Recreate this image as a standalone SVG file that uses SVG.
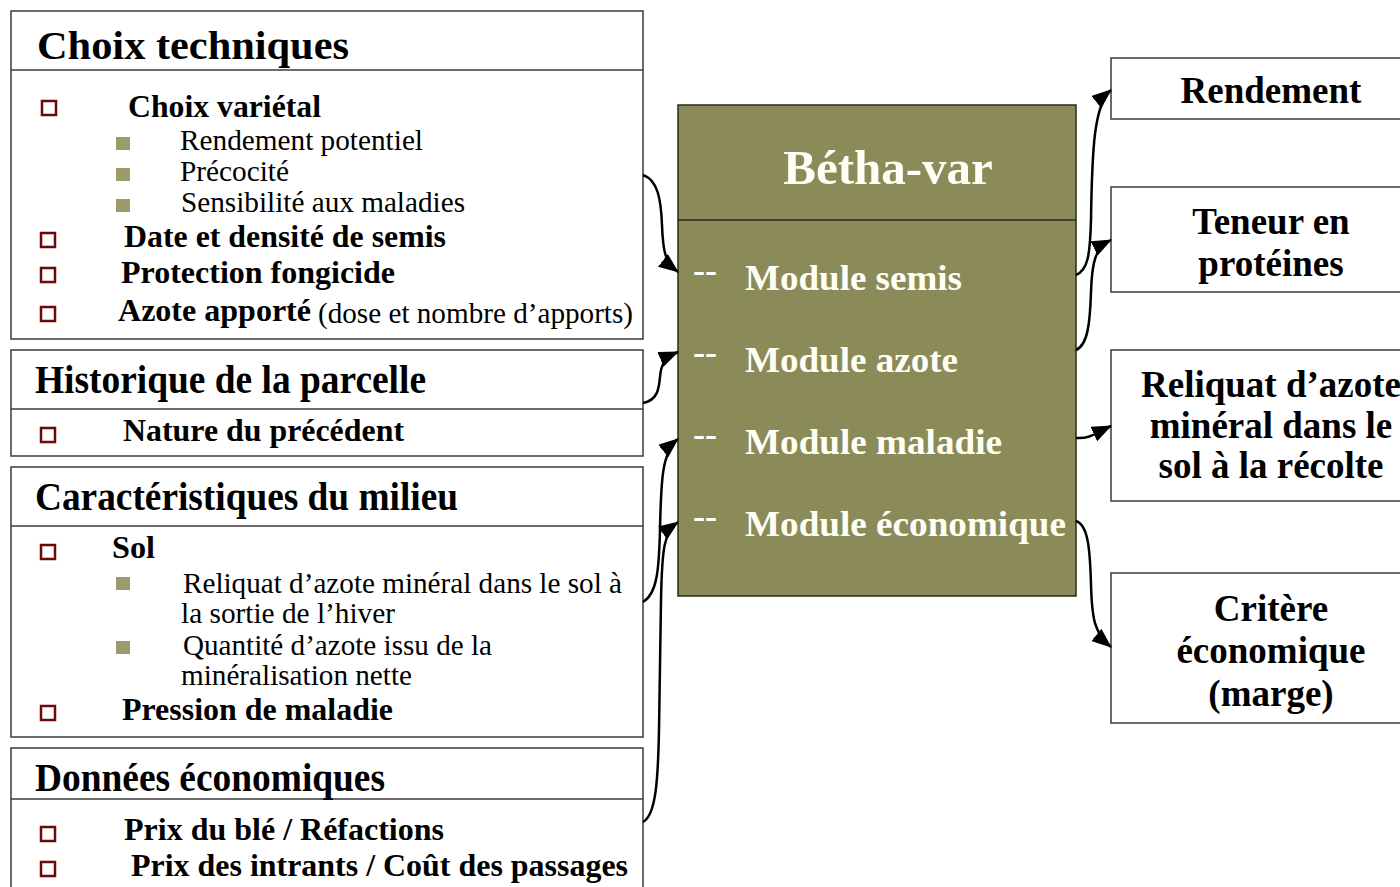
<svg xmlns="http://www.w3.org/2000/svg" width="1400" height="887" viewBox="0 0 1400 887">
<style>
.box{fill:#fff;stroke:#3a3a3a;stroke-width:1.5}
.div{stroke:#3a3a3a;stroke-width:1.5}
.t{font-family:"Liberation Serif","Times New Roman",serif;fill:#000}
.b{font-weight:bold}
.ttl{font-size:40px;font-weight:bold}
.it{font-size:32px;font-weight:bold}
.sub{font-size:29px}
.hb{fill:#fff;stroke:#6b0a0a;stroke-width:2.5}
.ob{fill:#9b9b6b}
.w{font-family:"Liberation Serif","Times New Roman",serif;fill:#fffff5;font-weight:bold}
.rt{font-family:"Liberation Serif","Times New Roman",serif;font-weight:bold;font-size:37px;text-anchor:middle;fill:#000}
.c{fill:none;stroke:#000;stroke-width:2.5;marker-end:url(#ah)}
</style>
<defs>
<marker id="ah" viewBox="0 0 20 16" refX="19" refY="8" markerWidth="20" markerHeight="16" markerUnits="userSpaceOnUse" orient="auto">
<path d="M0,0 L20,8 L0,16 Z" fill="#000"/>
</marker>
</defs>
<rect width="1400" height="887" fill="#fff"/>

<g id="choix-techniques">
<rect class="box" x="11" y="11" width="632" height="328"/>
<line class="div" x1="11" y1="70" x2="643" y2="70"/>
<text class="t ttl" x="37" y="59" font-size="43" textLength="312" lengthAdjust="spacingAndGlyphs">Choix techniques</text>
<rect class="hb" x="42" y="101" width="14" height="14"/>
<text class="t it" x="128" y="117" textLength="193" lengthAdjust="spacingAndGlyphs">Choix variétal</text>
<rect class="ob" x="116" y="137" width="14" height="13"/>
<text class="t sub" x="180" y="150" textLength="243" lengthAdjust="spacingAndGlyphs">Rendement potentiel</text>
<rect class="ob" x="116" y="168" width="14" height="13"/>
<text class="t sub" x="180" y="181" textLength="109" lengthAdjust="spacingAndGlyphs">Précocité</text>
<rect class="ob" x="116" y="199" width="14" height="13"/>
<text class="t sub" x="181" y="212" textLength="284" lengthAdjust="spacingAndGlyphs">Sensibilité aux maladies</text>
<rect class="hb" x="41" y="233" width="14" height="14"/>
<text class="t it" x="124" y="247" textLength="322" lengthAdjust="spacingAndGlyphs">Date et densité de semis</text>
<rect class="hb" x="41" y="268" width="14" height="14"/>
<text class="t it" x="121" y="283" textLength="274" lengthAdjust="spacingAndGlyphs">Protection fongicide</text>
<rect class="hb" x="41" y="307" width="14" height="14"/>
<text class="t it" x="118" y="321" textLength="193" lengthAdjust="spacingAndGlyphs">Azote apporté</text>
<text class="t sub" x="318" y="323" textLength="315" lengthAdjust="spacingAndGlyphs">(dose et nombre d’apports)</text>
</g>

<g id="historique">
<rect class="box" x="11" y="350" width="632" height="106"/>
<line class="div" x1="11" y1="409" x2="643" y2="409"/>
<text class="t ttl" x="35" y="393" textLength="391" lengthAdjust="spacingAndGlyphs">Historique de la parcelle</text>
<rect class="hb" x="41" y="428" width="14" height="14"/>
<text class="t it" x="123" y="441" textLength="281" lengthAdjust="spacingAndGlyphs">Nature du précédent</text>
</g>

<g id="caracteristiques">
<rect class="box" x="11" y="467" width="632" height="270"/>
<line class="div" x1="11" y1="526" x2="643" y2="526"/>
<text class="t ttl" x="35" y="510" textLength="423" lengthAdjust="spacingAndGlyphs">Caractéristiques du milieu</text>
<rect class="hb" x="41" y="545" width="14" height="14"/>
<text class="t it" x="112" y="558" textLength="43" lengthAdjust="spacingAndGlyphs">Sol</text>
<rect class="ob" x="116" y="577" width="14" height="13"/>
<text class="t sub" x="183" y="593" textLength="439" lengthAdjust="spacingAndGlyphs">Reliquat d’azote minéral dans le sol à</text>
<text class="t sub" x="181" y="623" textLength="214" lengthAdjust="spacingAndGlyphs">la sortie de l’hiver</text>
<rect class="ob" x="116" y="641" width="14" height="13"/>
<text class="t sub" x="183" y="655" textLength="309" lengthAdjust="spacingAndGlyphs">Quantité d’azote issu de la</text>
<text class="t sub" x="181" y="685" textLength="231" lengthAdjust="spacingAndGlyphs">minéralisation nette</text>
<rect class="hb" x="41" y="706" width="14" height="14"/>
<text class="t it" x="122" y="720" textLength="271" lengthAdjust="spacingAndGlyphs">Pression de maladie</text>
</g>

<g id="donnees-economiques">
<rect class="box" x="11" y="748" width="632" height="160"/>
<line class="div" x1="11" y1="799" x2="643" y2="799"/>
<text class="t ttl" x="35" y="791" textLength="350" lengthAdjust="spacingAndGlyphs">Données économiques</text>
<rect class="hb" x="41" y="827" width="14" height="14"/>
<text class="t it" x="124" y="840" textLength="320" lengthAdjust="spacingAndGlyphs">Prix du blé / Réfactions</text>
<rect class="hb" x="41" y="862" width="14" height="14"/>
<text class="t it" x="131" y="876" textLength="497" lengthAdjust="spacingAndGlyphs">Prix des intrants / Coût des passages</text>
</g>

<g id="betha-var">
<rect x="678" y="105" width="398" height="491" fill="#8b8b5a" stroke="#2a2a1a" stroke-width="1.5"/>
<line x1="678" y1="220" x2="1076" y2="220" stroke="#2a2a1a" stroke-width="1.5"/>
<text class="w" x="888" y="184" font-size="49" text-anchor="middle">Bétha-var</text>
<text class="w" x="693" y="282" font-size="36">--</text>
<text class="w" x="745" y="290" font-size="36" textLength="217" lengthAdjust="spacingAndGlyphs">Module semis</text>
<text class="w" x="693" y="364" font-size="36">--</text>
<text class="w" x="745" y="372" font-size="36" textLength="213" lengthAdjust="spacingAndGlyphs">Module azote</text>
<text class="w" x="693" y="446" font-size="36">--</text>
<text class="w" x="745" y="454" font-size="36" textLength="257" lengthAdjust="spacingAndGlyphs">Module maladie</text>
<text class="w" x="693" y="528" font-size="36">--</text>
<text class="w" x="745" y="536" font-size="36" textLength="321" lengthAdjust="spacingAndGlyphs">Module économique</text>
</g>

<g id="rendement">
<rect class="box" x="1111" y="58" width="330" height="61"/>
<text class="rt" x="1271" y="103">Rendement</text>
</g>
<g id="teneur-proteines">
<rect class="box" x="1111" y="187" width="330" height="105"/>
<text class="rt" x="1271" y="234">Teneur en</text>
<text class="rt" x="1271" y="276">protéines</text>
</g>
<g id="reliquat-recolte">
<rect class="box" x="1111" y="350" width="330" height="151"/>
<text class="rt" x="1271" y="397">Reliquat d’azote</text>
<text class="rt" x="1271" y="438">minéral dans le</text>
<text class="rt" x="1271" y="478">sol à la récolte</text>
</g>
<g id="critere-economique">
<rect class="box" x="1111" y="573" width="330" height="150"/>
<text class="rt" x="1271" y="621">Critère</text>
<text class="rt" x="1271" y="663">économique</text>
<text class="rt" x="1271" y="706">(marge)</text>
</g>

<g id="connectors">
<path class="c" d="M643,175 C658,180 661,200 662,225 C663,252 665,262 678,272"/>
<path class="c" d="M643,403 C658,400 659,388 660,377 C661,363 666,357 678,352"/>
<path class="c" d="M643,602 C657,594 659,570 660,530 C661,480 662,452 678,439"/>
<path class="c" d="M643,822 C656,815 658,780 659,730 L661,600 C662,548 664,532 678,522"/>
<path class="c" d="M1076,275 C1088,270 1090,255 1091,220 C1092,150 1094,104 1111,90"/>
<path class="c" d="M1076,350 C1088,345 1090,322 1091,292 C1092,262 1095,248 1111,240"/>
<path class="c" d="M1076,438 C1090,439 1096,433 1111,426"/>
<path class="c" d="M1076,521 C1088,525 1090,548 1091,585 C1092,618 1094,633 1111,647"/>
</g>
</svg>
